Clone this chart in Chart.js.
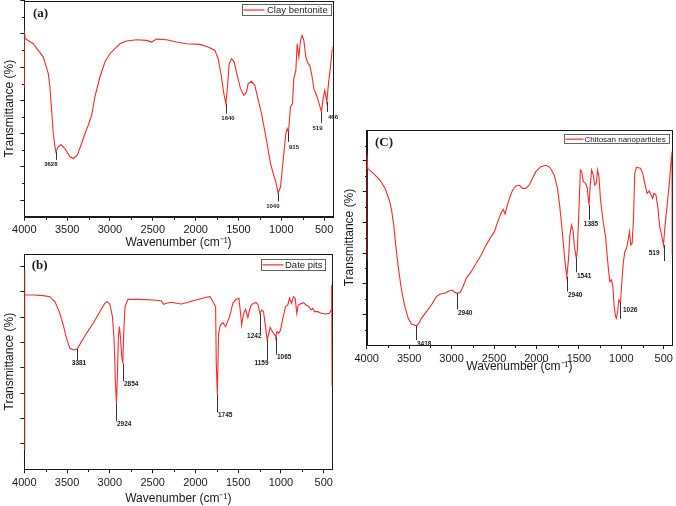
<!DOCTYPE html>
<html>
<head>
<meta charset="utf-8">
<script src="https://cdn.jsdelivr.net/npm/chart.js@4.4.1/dist/chart.umd.min.js"></script>
<style>
  html, body { margin: 0; padding: 0; background: #fff; }
  #wrap { position: relative; width: 676px; height: 506px; overflow: hidden; }
  canvas { position: absolute; }
  #cA { left: 0; top: 0; }
  #cB { left: 0; top: 250px; }
  #cC { left: 338px; top: 120px; }
</style>
</head>
<body>
<div id="wrap">
  <canvas id="cA" width="338" height="250"></canvas>
  <canvas id="cB" width="338" height="256"></canvas>
  <canvas id="cC" width="338" height="255"></canvas>
</div>
<script>
// shared axis ticks (wavenumber, cm-1)
const xMajor = [4000, 3500, 3000, 2500, 2000, 1500, 1000, 500];
const xMinor = [3750, 3250, 2750, 2250, 1750, 1250, 750];

// (a) clay bentonite
const aWn = [4000, 3999, 3990, 3895, 3778, 3720, 3701, 3681, 3662, 3642, 3631, 3603, 3572, 3526, 3467,
  3428, 3382, 3331, 3292, 3253, 3214, 3176, 3117, 3059, 3001, 2942, 2884, 2806, 2689, 2573,
  2514, 2456, 2339, 2223, 2106, 1950, 1853, 1775, 1737, 1698, 1671, 1647, 1628, 1608, 1581,
  1550, 1515, 1476, 1437, 1406, 1387, 1348, 1309, 1282, 1231, 1173, 1126, 1095, 1064, 1037,
  1009, 978, 947, 932, 916, 893, 869, 854, 830, 815, 795, 776, 757, 737, 714,
  687, 667, 640, 620, 589, 558, 531, 512, 492, 481, 469, 449, 426, 407, 400];
const aT = [39, 56, 53.5, 52, 48, 43, 39, 32, 25, 21, 19.5, 21, 21.7, 20.5, 18,
  17.5, 18.5, 22, 25, 27.5, 30.5, 36, 42, 46.5, 49, 50.5, 52, 52.8, 53.2, 53,
  52.5, 53.4, 53.2, 52.5, 52, 51.8, 51, 50, 47.5, 42, 37, 34, 39, 46, 47.5,
  46.5, 42.5, 38.5, 36.5, 37.5, 40, 40.7, 39.5, 36.5, 31, 23, 16, 13, 10.5, 7,
  9, 17, 25, 26.5, 25.5, 33, 34, 41.5, 44, 52, 48, 53, 54.5, 53, 48,
  46, 45.5, 42, 38.5, 36.5, 34, 31.5, 35.5, 38, 36.5, 34.5, 40, 45, 50, 51];
const aPeakAt = [3631, 1647, 1037, 916, 531, 469];
const aPeakText = ['3628', '1640', '1040', '915', '519', '466'];
const aYMajor = [5, 15, 25, 35, 45, 55, 65];
const aYMinor = [10, 20, 30, 40, 50, 60];

// (b) date pits
const bWn = [4000, 3999, 3992, 3895, 3778, 3701, 3642, 3584, 3545, 3506, 3467, 3428, 3382, 3331, 3273,
  3195, 3117, 3059, 3032, 3001, 2970, 2950, 2935, 2923, 2912, 2900, 2888, 2877, 2861, 2849,
  2838, 2823, 2788, 2652, 2496, 2399, 2372, 2339, 2281, 2223, 2164, 2067, 1950, 1872, 1830,
  1800, 1764, 1756, 1744, 1729, 1709, 1678, 1647, 1601, 1562, 1523, 1492, 1472, 1460, 1437,
  1414, 1387, 1367, 1348, 1321, 1289, 1266, 1247, 1223, 1204, 1181, 1161, 1142, 1126, 1111,
  1087, 1064, 1060, 1048, 1025, 1005, 978, 947, 920, 900, 877, 854, 834, 815, 799,
  776, 737, 706, 675, 648, 628, 609, 570, 531, 473, 434, 414, 407, 402, 400];
const bT = [5.8, 59.8, 52.3, 52.3, 52.1, 51.8, 50.3, 46.8, 43.3, 39.3, 36.3, 35.8, 36.1, 38.3, 40.8,
  43.8, 47.3, 49.8, 50.3, 49.6, 45.8, 38.8, 25.8, 19.8, 27.8, 39.8, 42.8, 39.8, 33.8, 31.8,
  40.8, 48.8, 51, 51, 50.8, 50.6, 49.5, 49.8, 50.1, 49.8, 49.6, 50.3, 51.1, 51.6, 51.8,
  50.5, 48.8, 31.8, 22.5, 40.8, 43.3, 44, 42.8, 45.8, 49.8, 51, 51.3, 46.8, 43.3, 46.8,
  48, 45.5, 47.8, 49.3, 49.8, 50, 49.3, 46.8, 47.8, 47.3, 42.8, 38.8, 40.8, 42.6, 41.8,
  40.8, 40, 39.8, 41.3, 40.8, 41.8, 45.3, 48.8, 49.3, 51.3, 49.8, 51.8, 51.3, 46.8, 49.3,
  49.6, 50, 49.3, 48.8, 47.8, 48.3, 47.3, 47.3, 46.8, 46.6, 46.8, 47.8, 55.3, 24.8, 24.8];
const bPeakAt = [3382, 2923, 2849, 1744, 1247, 1161, 1060];
const bPeakText = ['3381', '2924', '2854', '1745', '1242', '1159', '1065'];
const bYMajor = [7.6, 15.2, 22.8, 30.4, 38, 45.6, 53.2, 60.8];
const bYMinor = [];

// (C) chitosan nanoparticles
const cWn = [4000, 3999, 3988, 3922, 3844, 3785, 3734, 3707, 3679, 3656, 3629, 3590, 3550, 3511, 3472,
  3433, 3414, 3390, 3355, 3296, 3238, 3179, 3140, 3081, 3023, 2991, 2964, 2937, 2898, 2866,
  2827, 2769, 2710, 2651, 2593, 2534, 2495, 2456, 2417, 2390, 2370, 2350, 2319, 2280, 2241,
  2202, 2163, 2124, 2085, 2046, 2007, 1948, 1889, 1842, 1791, 1752, 1725, 1694, 1666, 1643,
  1623, 1608, 1588, 1569, 1553, 1530, 1518, 1498, 1483, 1467, 1448, 1420, 1401, 1381, 1366,
  1350, 1330, 1315, 1295, 1280, 1264, 1245, 1217, 1186, 1166, 1147, 1135, 1116, 1100, 1084,
  1068, 1057, 1041, 1029, 1010, 998, 978, 959, 939, 920, 904, 889, 873, 857, 842,
  822, 775, 748, 724, 697, 670, 650, 631, 615, 592, 568, 549, 529, 503, 490,
  462, 435, 412, 403, 400];
const cT = [25.5, 57.5, 53, 51.5, 49.5, 47, 43.5, 40.5, 35.5, 29.5, 23.5, 16.5, 11.5, 8, 6.3,
  5.9, 5.7, 6.3, 8, 10, 12, 14.5, 15.2, 15.5, 16.3, 16.5, 15.8, 15.5, 15.8, 17.5,
  20, 22, 24.5, 27, 30, 32.5, 34, 37, 39.5, 40.7, 39.3, 41.3, 44, 46.5, 47.7,
  47.9, 47, 47, 48, 50, 52, 53.5, 53.9, 53.3, 51, 47, 41.5, 33.5, 25.5, 20.5,
  25.5, 32.5, 36, 34.5, 29.5, 26, 28.5, 41.5, 52.5, 52, 49, 48.5, 47, 42, 48,
  52.5, 51, 48, 48.5, 52.5, 50.5, 43.5, 37.5, 32.5, 26.5, 21.5, 19, 19.5, 17.5, 11.5,
  8.5, 8, 10.5, 13.5, 12.7, 17.5, 24.5, 28, 29, 31.5, 34, 30, 30.5, 37.5, 51.5,
  53.3, 53, 51.5, 48.5, 45.5, 46.2, 45, 44, 45.5, 45, 41, 35.5, 33.5, 30, 34.5,
  41.5, 48.5, 55.5, 58, 27];
const cPeakAt = [3414, 2937, 1643, 1530, 1381, 1010, 503];
const cPeakText = ['3418', '2940', '2940', '1541', '1385', '1026', '519'];
const cYMajor = [9.2, 18.4, 27.6, 36.8, 46, 55.2];
const cYMinor = [4.6, 13.8, 23, 32.2, 41.4, 50.6, 59.8];

const RED = '#ff2a2a';
const INK = '#1a1a1a';
const FONT = '"Liberation Sans", Arial, sans-serif';

function valueAt(pts, w) {
  for (let i = 0; i < pts.length - 1; i++) {
    const p = pts[i], q = pts[i + 1];
    if (p.x >= w && q.x <= w) {
      if (p.x === q.x) return p.y;
      return p.y + (q.y - p.y) * (p.x - w) / (p.x - q.x);
    }
  }
  return pts[pts.length - 1].y;
}

const al = v => Math.round(v) + 0.5;

function panelPlugin(p) {
  return {
    id: 'panel',
    beforeDatasetsDraw(chart) {
      const {ctx, chartArea: a, scales: {x, y}} = chart;
      ctx.save();
      ctx.strokeStyle = INK;
      ctx.lineWidth = 1;
      ctx.strokeRect(al(a.left), al(a.top), Math.round(a.right) - Math.round(a.left), Math.round(a.bottom) - Math.round(a.top));
      // minor ticks
      ctx.beginPath();
      xMinor.forEach(v => {
        const px = al(x.getPixelForValue(v));
        ctx.moveTo(px, al(a.bottom));
        ctx.lineTo(px, al(a.bottom) + 2.5);
      });
      p.yMinor.forEach(v => {
        const py = al(y.getPixelForValue(v));
        ctx.moveTo(al(a.left), py);
        ctx.lineTo(al(a.left) - 2.5, py);
      });
      ctx.stroke();
      ctx.restore();
    },
    afterDatasetsDraw(chart) {
      const {ctx, chartArea: a, scales: {x, y}} = chart;
      const pts = chart.data.datasets[0].data;
      ctx.save();
      // peak markers
      ctx.strokeStyle = '#333';
      ctx.lineWidth = 1;
      ctx.fillStyle = INK;
      ctx.font = 'bold ' + p.peakSize + 'px ' + FONT;
      p.peakAt.forEach((w, i) => {
        const px = al(x.getPixelForValue(w));
        const py = y.getPixelForValue(valueAt(pts, w));
        const len = p.lead[i];
        const end = py + len;
        ctx.beginPath();
        ctx.moveTo(px, py);
        ctx.lineTo(px, end);
        ctx.stroke();
        const mode = p.align[i];
        const txt = p.peakText[i];
        if (mode === 'side' || mode === 'sideL') {
          ctx.textBaseline = 'middle';
          ctx.textAlign = mode === 'side' ? 'left' : 'right';
          ctx.fillText(txt, mode === 'side' ? px + 2.5 : px - 5, py + len / 2);
        } else {
          ctx.textBaseline = 'top';
          ctx.textAlign = mode;
          const dx = mode === 'left' ? 0.5 : (mode === 'right' ? 1 : 1.5);
          ctx.fillText(txt, px + dx, end + p.labelDy);
        }
      });
      // legend box
      ctx.font = p.legendSize + 'px ' + FONT;
      const tw = ctx.measureText(p.name).width;
      const bw = p.textStart + tw + 3;
      const bx = Math.round(a.right - p.legendRight - bw);
      const by = Math.round(a.top + p.legendTop);
      ctx.fillStyle = '#fff';
      ctx.fillRect(bx, by, bw, p.legendH);
      ctx.strokeStyle = '#666';
      ctx.strokeRect(bx + 0.5, by + 0.5, Math.round(bw), Math.round(p.legendH));
      ctx.strokeStyle = RED;
      ctx.lineWidth = 1.2;
      ctx.beginPath();
      ctx.moveTo(bx + 1.5, by + p.legendH / 2 + 0.5);
      ctx.lineTo(bx + 1.5 + p.lineLen, by + p.legendH / 2 + 0.5);
      ctx.stroke();
      ctx.fillStyle = INK;
      ctx.textAlign = 'left';
      ctx.textBaseline = 'middle';
      ctx.fillText(p.name, bx + p.textStart, by + p.legendH / 2 + 1);
      // panel tag
      ctx.font = 'bold 13px "Liberation Serif", "Times New Roman", serif';
      ctx.textBaseline = 'alphabetic';
      ctx.fillText(p.tag, a.left + p.tagX, a.top + p.tagY);
      ctx.restore();
    }
  };
}

function makeChart(id, p) {
  const points = p.wn.map((w, i) => ({x: w, y: p.t[i]}));
  const grid = {display: true, drawOnChartArea: false, drawTicks: true, tickLength: 4, tickColor: INK, color: INK};
  return new Chart(document.getElementById(id), {
    type: 'line',
    data: {
      datasets: [{
        label: p.name,
        data: points,
        borderColor: RED,
        borderWidth: 1.1,
        pointRadius: 0,
        fill: false,
        tension: 0
      }]
    },
    options: {
      responsive: false,
      animation: false,
      devicePixelRatio: 1,
      events: [],
      layout: {padding: p.pad},
      plugins: {legend: {display: false}, tooltip: {enabled: false}},
      scales: {
        x: {
          type: 'linear',
          reverse: true,
          min: 400,
          max: 4000,
          afterBuildTicks: s => { s.ticks = xMajor.map(v => ({value: v})); },
          afterFit: s => { s.height = p.xh; },
          ticks: {
            callback: v => String(v),
            color: INK,
            font: {family: FONT, size: 11},
            padding: 3,
            maxRotation: 0,
            autoSkip: false
          },
          grid: grid,
          border: {display: true, color: INK, width: 1},
          title: {
            display: true,
            text: 'Wavenumber (cm\u207B\u00B9)',
            color: INK,
            font: {family: FONT, size: 12},
            padding: {top: 0, bottom: p.xTitlePad}
          }
        },
        y: {
          min: 0,
          max: p.ymax,
          afterBuildTicks: s => { s.ticks = p.yMajor.map(v => ({value: v})); },
          afterFit: s => { s.width = p.yw; },
          ticks: {display: false},
          grid: grid,
          border: {display: true, color: INK, width: 1},
          title: {
            display: true,
            text: 'Transmittance (%)',
            color: INK,
            font: {family: FONT, size: 12},
            padding: {top: p.yTitlePad, bottom: 0}
          }
        }
      }
    },
    plugins: [panelPlugin(p)]
  });
}

makeChart('cA', {
  name: 'Clay bentonite', tag: '(a)', wn: aWn, t: aT,
  peakAt: aPeakAt, peakText: aPeakText,
  lead: [8, 10, 8, 10, 11, 10], align: ['right', 'center', 'right', 'left', 'right', 'left'],
  labelDy: 2, peakSize: 6,
  yMajor: aYMajor, yMinor: aYMinor, ymax: 65,
  pad: {left: 0, top: 0.5, right: 5.3, bottom: 0}, yw: 24.3, xh: 33.3, xTitlePad: 0, yTitlePad: 2,
  legendSize: 9.5, legendRight: 2, legendTop: 3.5, legendH: 11, lineLen: 21, textStart: 25,
  tagX: 8.7, tagY: 16.5
});

makeChart('cB', {
  name: 'Date pits', tag: '(b)', wn: bWn, t: bT,
  peakAt: bPeakAt, peakText: bPeakText,
  lead: [11, 18, 18, 18, 20, 20, 18], align: ['center', 'left', 'left', 'left', 'right', 'right', 'left'],
  labelDy: -0.5, peakSize: 6.5,
  yMajor: bYMajor, yMinor: bYMinor, ymax: 64.6,
  pad: {left: 0, top: 4, right: 5.7, bottom: 0}, yw: 24.3, xh: 36.7, xTitlePad: 0, yTitlePad: 2,
  legendSize: 9.5, legendRight: 6.6, legendTop: 5.3, legendH: 10.7, lineLen: 21, textStart: 24,
  tagX: 7.4, tagY: 15
});

makeChart('cC', {
  name: 'Chitosan nanoparticles', tag: '(C)', wn: cWn, t: cT,
  peakAt: cPeakAt, peakText: cPeakText,
  lead: [14, 16, 15, 14, 15, 16, 16], align: ['left', 'left', 'left', 'left', 'center', 'side', 'sideL'],
  labelDy: 0.5, peakSize: 6.5,
  yMajor: cYMajor, yMinor: cYMinor, ymax: 64.5,
  pad: {left: 0, top: 10, right: 1.7, bottom: 0}, yw: 28.7, xh: 30, xTitlePad: 1, yTitlePad: 4,
  legendSize: 8, legendRight: 3.6, legendTop: 4, legendH: 9.3, lineLen: 18, textStart: 20.4,
  tagX: 8.3, tagY: 16
});
</script>
</body>
</html>
